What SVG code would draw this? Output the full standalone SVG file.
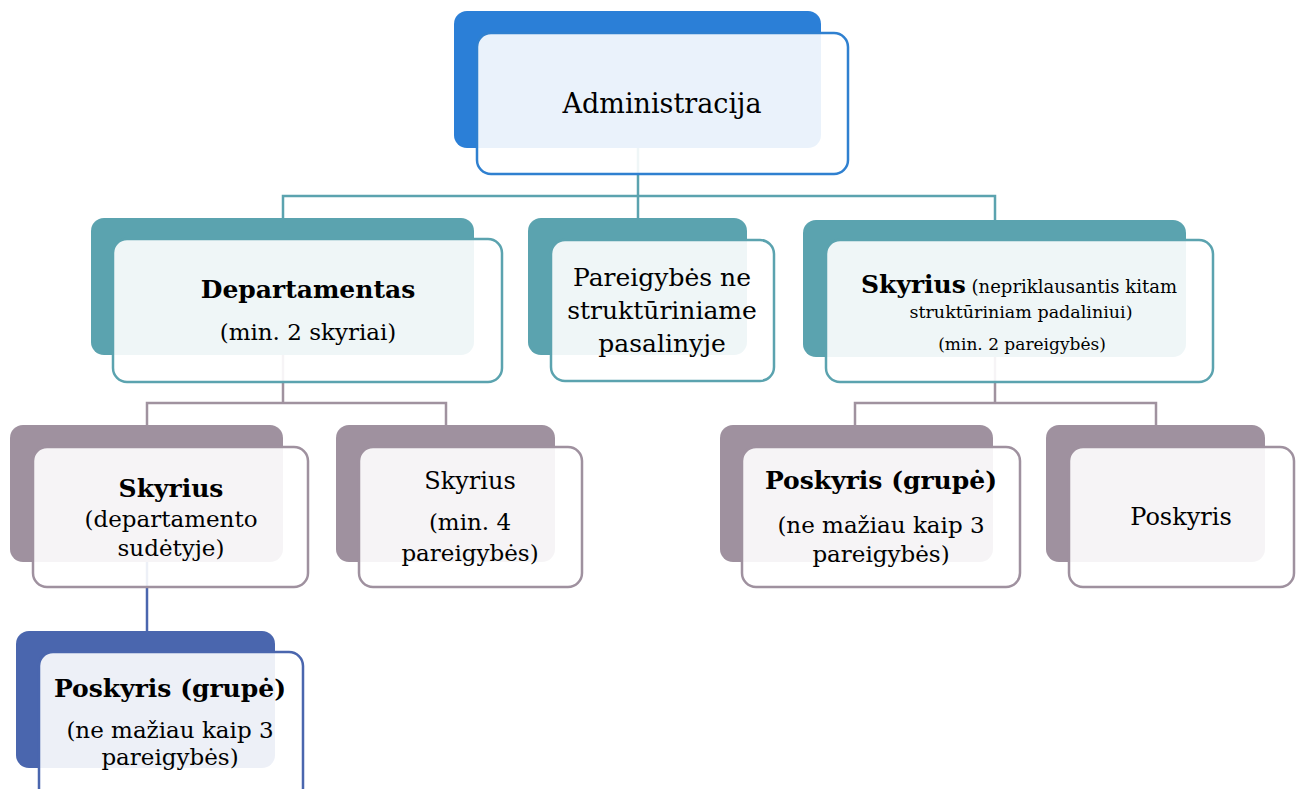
<svg xmlns="http://www.w3.org/2000/svg" width="1299" height="789" viewBox="0 0 1299 789">
<style>
.t{font-family:"DejaVu Serif","Liberation Serif",serif;fill:#000;text-anchor:middle}
.b{font-weight:bold}
.front{fill:#fff;fill-opacity:0.9;stroke-width:2.5}
.con{fill:none;stroke-width:2.5}
.blue .back{fill:#2B7FD7}.blue .front{stroke:#2F80D0}
.teal .back{fill:#5BA3AF}.teal .front{stroke:#5BA3AF}
.gray .back{fill:#9F919F}.gray .front{stroke:#9F919F}
.navy .back{fill:#4A66AE}.navy .front{stroke:#4A66AE}
</style>
<rect width="1299" height="789" fill="#fff"/>
<g id="connectors">
<path class="con" stroke="#5BA3AF" d="M638 148V196M283 218V196H995V220M638 196V218"/>
<path class="con" stroke="#A0929F" d="M283 355V403M147 425V403H446V425M995 357V403M855 425V403H1156V425"/>
<path class="con" stroke="#4A66AE" d="M147 562V631"/>
</g>
<g id="admin" class="blue">
<rect class="back" x="454" y="11" width="367" height="137" rx="13"/>
<rect class="front" x="477" y="33" width="371" height="141" rx="14"/>
<text class="t" x="662" y="113" font-size="27">Administracija</text>
</g>
<g id="departamentas" class="teal">
<rect class="back" x="91" y="218" width="383" height="137" rx="13"/>
<rect class="front" x="113" y="239" width="389" height="143" rx="14"/>
<text class="t b" x="308" y="298" font-size="25">Departamentas</text>
<text class="t" x="308" y="340" font-size="23">(min. 2 skyriai)</text>
</g>
<g id="pareigybes" class="teal">
<rect class="back" x="528" y="218" width="219" height="137" rx="13"/>
<rect class="front" x="551" y="240" width="223" height="141" rx="14"/>
<text class="t" x="662" y="286" font-size="25">Pareigybės ne</text>
<text class="t" x="662" y="319" font-size="25">struktūriniame</text>
<text class="t" x="662" y="352" font-size="25">pasalinyje</text>
</g>
<g id="skyrius-right" class="teal">
<rect class="back" x="803" y="220" width="383" height="137" rx="13"/>
<rect class="front" x="826" y="240" width="387" height="142" rx="14"/>
<text class="t" x="1019" y="293"><tspan class="b" font-size="25">Skyrius</tspan><tspan font-size="18"> (nepriklausantis kitam</tspan></text>
<text class="t" x="1021" y="318" font-size="17.5">struktūriniam padaliniui)</text>
<text class="t" x="1022" y="350" font-size="17">(min. 2 pareigybės)</text>
</g>
<g id="skyrius-dep" class="gray">
<rect class="back" x="10" y="425" width="273" height="137" rx="13"/>
<rect class="front" x="33" y="447" width="275" height="140" rx="14"/>
<text class="t b" x="171" y="497" font-size="25">Skyrius</text>
<text class="t" x="171" y="527" font-size="23">(departamento</text>
<text class="t" x="171" y="556" font-size="23">sudėtyje)</text>
</g>
<g id="skyrius-min4" class="gray">
<rect class="back" x="336" y="425" width="219" height="137" rx="13"/>
<rect class="front" x="359" y="447" width="223" height="140" rx="14"/>
<text class="t" x="470" y="489" font-size="24">Skyrius</text>
<text class="t" x="470" y="530" font-size="23">(min. 4</text>
<text class="t" x="470" y="561" font-size="23">pareigybės)</text>
</g>
<g id="poskyris-grupe" class="gray">
<rect class="back" x="720" y="425" width="273" height="137" rx="13"/>
<rect class="front" x="742" y="447" width="278" height="140" rx="14"/>
<text class="t b" x="881" y="489" font-size="25">Poskyris (grupė)</text>
<text class="t" x="881" y="533" font-size="23">(ne mažiau kaip 3</text>
<text class="t" x="881" y="562" font-size="23">pareigybės)</text>
</g>
<g id="poskyris" class="gray">
<rect class="back" x="1046" y="425" width="219" height="137" rx="13"/>
<rect class="front" x="1069" y="447" width="225" height="140" rx="14"/>
<text class="t" x="1181" y="525" font-size="24">Poskyris</text>
</g>
<g id="poskyris-grupe-dep" class="navy">
<rect class="back" x="16" y="631" width="259" height="137" rx="13"/>
<rect class="front" x="39" y="652" width="264" height="150" rx="14"/>
<text class="t b" x="170" y="697" font-size="25">Poskyris (grupė)</text>
<text class="t" x="170" y="738" font-size="23">(ne mažiau kaip 3</text>
<text class="t" x="170" y="765" font-size="23">pareigybės)</text>
</g>
</svg>
